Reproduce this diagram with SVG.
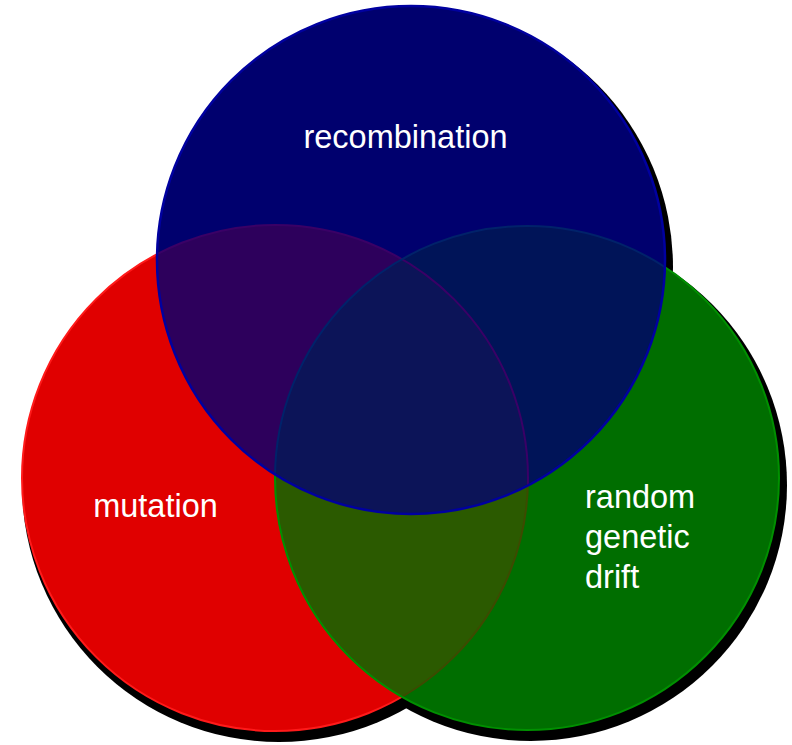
<svg xmlns="http://www.w3.org/2000/svg" width="792" height="745" viewBox="0 0 792 745">
  <style>
    .shadow { fill: #000000; }
    .label { font-family: "Liberation Sans", Arial, sans-serif; fill: #ffffff; font-size: 32.5px; }
    .faint { fill: none; stroke-width: 2; }
  </style>
  <defs>
    <clipPath id="clipRed"><circle cx="275" cy="478" r="253"/></clipPath>
    <clipPath id="clipGreen"><circle cx="527" cy="478" r="252"/></clipPath>
    <clipPath id="clipBlue"><circle cx="411" cy="260" r="254"/></clipPath>
  </defs>
  <rect width="792" height="745" fill="#ffffff"/>

  <g id="shadows">
    <circle class="shadow" cx="279" cy="485" r="257"/>
    <circle class="shadow" cx="531" cy="485" r="256"/>
    <circle class="shadow" cx="415" cy="267" r="258"/>
  </g>

  <g id="mutation">
    <circle cx="275" cy="478" r="253" fill="#e00000" stroke="#ff1a1a" stroke-width="2"/>
    <text class="label" x="155.5" y="517" text-anchor="middle">mutation</text>
  </g>

  <g id="random-genetic-drift">
    <circle cx="527" cy="478" r="252" fill="#006e00"/>
    <circle cx="527" cy="478" r="252" fill="#2b5a00" clip-path="url(#clipRed)"/>
    <g clip-path="url(#clipGreen)">
      <circle class="faint" cx="275" cy="478" r="253" stroke="#3d4a00"/>
    </g>
    <circle cx="527" cy="478" r="252" fill="none" stroke="#009000" stroke-width="2"/>
    <text class="label" x="585" y="508">random</text>
    <text class="label" x="585" y="548">genetic</text>
    <text class="label" x="585" y="588">drift</text>
  </g>

  <g id="recombination">
    <circle cx="411" cy="260" r="254" fill="#00006e"/>
    <circle cx="275" cy="478" r="253" fill="#2d005c" clip-path="url(#clipBlue)"/>
    <circle cx="527" cy="478" r="252" fill="#001458" clip-path="url(#clipBlue)"/>
    <g clip-path="url(#clipBlue)">
      <circle cx="527" cy="478" r="252" fill="#0c1458" clip-path="url(#clipRed)"/>
      <circle class="faint" cx="275" cy="478" r="253" stroke="#3a0066"/>
      <circle class="faint" cx="527" cy="478" r="252" stroke="#00226a"/>
    </g>
    <circle cx="411" cy="260" r="254" fill="none" stroke="#0000a0" stroke-width="2.5"/>
    <text class="label" x="405.5" y="148" text-anchor="middle">recombination</text>
  </g>

  <g id="connectors"></g>
</svg>
